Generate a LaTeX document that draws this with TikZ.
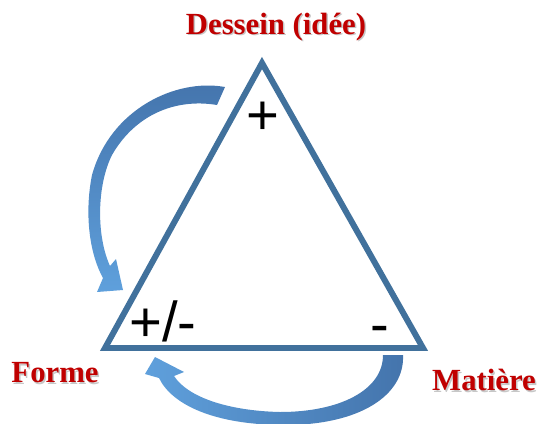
\documentclass[tikz,border=0pt]{standalone}
\usepackage{fontspec}
\setmainfont{Liberation Serif}
\newfontfamily\signfont{Liberation Sans}
\definecolor{triblue}{HTML}{41719C}
\definecolor{arrdark}{HTML}{4474AC}
\definecolor{arrlight}{HTML}{5FA0DC}
\definecolor{lblred}{HTML}{C00000}
\begin{document}
\begin{tikzpicture}[x=0.02cm,y=-0.02cm,
  tri/.style={draw=triblue,line width=3.4pt,line join=miter},
  lbl/.style={text=lblred,font=\fontsize{17.5}{20}\selectfont\bfseries,inner sep=0pt},
  lblshadow/.style={text=black!22,font=\fontsize{17.5}{20}\selectfont\bfseries,inner sep=0pt},
  sgn/.style={font=\fontsize{32}{36}\signfont,inner sep=0pt,anchor=base west},
  arrA/.style={top color=arrdark,bottom color=arrlight,draw=none},
  arrB/.style={left color=arrlight,right color=arrdark,draw=none}]
\useasboundingbox (0,0) rectangle (544,423);
% triangle
\coordinate (A) at (262,63);
\coordinate (B) at (105,348);
\coordinate (C) at (423,348);
\draw[tri] (A) -- (B) -- (C) -- cycle;
% curved arrow from top to left
\coordinate (a1) at (225,87);
\coordinate (a2) at (217,105);
\path[arrA] (a1) .. controls (175,78) and (110,110) .. (92,175)
  .. controls (84,215) and (90,255) .. (103,278)
  -- (97,292) -- (123,290) -- (116,259) -- (110,266)
  .. controls (96,235) and (97,185) .. (112,155)
  .. controls (135,115) and (175,98) .. (a2) -- cycle;
% curved arrow from right to left (bottom)
\coordinate (b1) at (403,355);
\coordinate (b2) at (383,355);
\path[arrB] (b1) .. controls (405,395) and (360,425) .. (285,425)
  .. controls (215,425) and (172,405) .. (159,378)
  -- (145,374) -- (155,357) -- (184,372) -- (174,376)
  .. controls (190,400) and (235,411) .. (280,412)
  .. controls (340,412) and (383,390) .. (b2) -- cycle;
% labels
\node[lblshadow] (desseinS) at (277.5,28.5) {Dessein (idée)};
\node[lbl] (dessein) at (276,27) {Dessein (idée)};
\node[lblshadow] (formeS) at (56.5,374.5) {Forme};
\node[lbl] (forme) at (55,373) {Forme};
\node[lblshadow] (matiereS) at (485.5,381.5) {Matière};
\node[lbl] (matiere) at (484,380) {Matière};
% signs
\node[sgn] (plus) at (246,134) {+};
\node[sgn] (pm) at (129,341) {+/-};
\node[sgn] (minus) at (370,343) {-};
\end{tikzpicture}
\end{document}
